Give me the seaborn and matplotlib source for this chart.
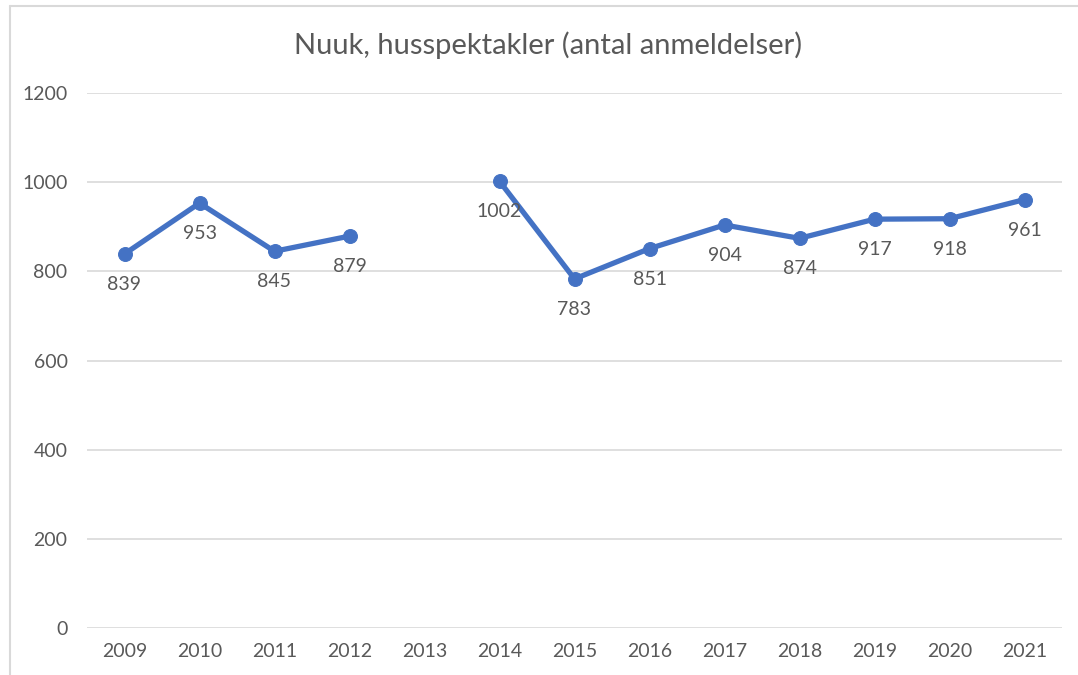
import pandas as pd
import numpy as np
import matplotlib.pyplot as plt
import seaborn as sns

years = ['2009', '2010', '2011', '2012', '2013', '2014', '2015',
         '2016', '2017', '2018', '2019', '2020', '2021']
counts = [839, 953, 845, 879, np.nan, 1002, 783, 851, 904, 874, 917, 918, 961]

df = pd.DataFrame({'year': years, 'count': counts})
df['pos'] = np.arange(len(df))
# the gap at 2013 splits the line in two pieces
df['segment'] = df['count'].isna().cumsum()
df = df.dropna()

sns.set_style('white')
plt.rcParams['font.family'] = ['Lato', 'DejaVu Sans']

fig = plt.figure(figsize=(10.78, 6.75), dpi=100)
ax = fig.add_axes([87 / 1078, 1 - 628 / 675, (1062 - 87) / 1078, (628 - 93) / 675])

blue = '#4472C4'
grey_txt = '#595959'

sns.lineplot(data=df, x='pos', y='count', units='segment', estimator=None,
             color=blue, linewidth=3.8, marker='o', markersize=10,
             markeredgecolor=blue, ax=ax, zorder=3)

for _, r in df.iterrows():
    ax.annotate(f"{int(r['count'])}", (r['pos'], r['count']), xytext=(0, -22),
                textcoords='offset points', ha='center', va='center',
                fontsize=14, color=grey_txt, zorder=4)

ax.set_xlim(-0.5, len(years) - 0.5)
ax.set_ylim(0, 1200)
ax.set_yticks(range(0, 1201, 200))
ax.set_xticks(range(len(years)))
ax.set_xticklabels(years)
ax.yaxis.grid(True, color='#D9D9D9', linewidth=1.2)
ax.set_axisbelow(True)
for s in ax.spines.values():
    s.set_visible(False)
ax.tick_params(axis='both', length=0, labelsize=14, labelcolor=grey_txt)
ax.tick_params(axis='y', pad=14)
ax.tick_params(axis='x', pad=11)
ax.set_xlabel('')
ax.set_ylabel('')

fig.text(548 / 1078, 1 - 45 / 675, 'Nuuk, husspektakler (antal anmeldelser)',
         ha='center', va='center', fontsize=21, color=grey_txt)

# light chart frame (top and left edges visible in the source)
fig.add_artist(plt.Line2D([10 / 1078, 10 / 1078], [0, 1 - 6 / 675],
                          transform=fig.transFigure, color='#D9D9D9', linewidth=1.5))
fig.add_artist(plt.Line2D([10 / 1078, 1], [1 - 6 / 675, 1 - 6 / 675],
                          transform=fig.transFigure, color='#D9D9D9', linewidth=1.5))

fig.savefig('out.png', dpi=100)
